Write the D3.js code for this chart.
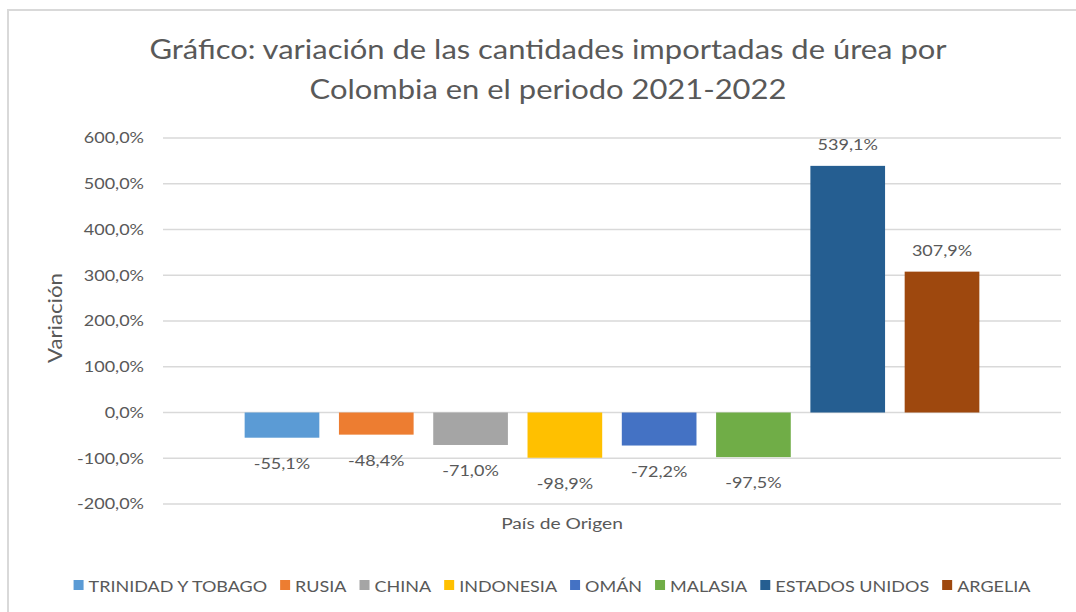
<!DOCTYPE html>
<html>
<head>
<meta charset="utf-8">
<script src="https://cdn.jsdelivr.net/npm/d3@7"></script>
<style>
  body { margin: 0; background: #fff; }
  text { font-family: Lato, "Noto Sans", sans-serif; fill: #595959; }
</style>
</head>
<body>
<svg id="chart" width="1076" height="612"></svg>
<script>
// Data
const countries = ["TRINIDAD Y TOBAGO", "RUSIA", "CHINA", "INDONESIA", "OMÁN", "MALASIA", "ESTADOS UNIDOS", "ARGELIA"];
const variations = [-55.1, -48.4, -71.0, -98.9, -72.2, -97.5, 539.1, 307.9];
const colors = ["#5B9BD5", "#ED7D31", "#A5A5A5", "#FFC000", "#4472C4", "#70AD47", "#255E91", "#9E480E"];
const yTicks = [-200, -100, 0, 100, 200, 300, 400, 500, 600];

const data = countries.map((c, i) => ({ name: c, value: variations[i], color: colors[i] }));

// the reference text is a bit wider than Lato, stretch it horizontally
const sx = 1.2;
const pct = v => d3.format(".1f")(v).replace(".", ",").replace("−", "-") + "%";

const margin = { top: 138, right: 15, bottom: 108, left: 163 };
const width = 1076 - margin.left - margin.right;
const height = 612 - margin.top - margin.bottom;

const svg = d3.select("#chart");

// chart frame
svg.append("path")
    .attr("d", "M8,612 L8,10 L1076,10")
    .attr("fill", "none")
    .attr("stroke", "#d9d9d9")
    .attr("stroke-width", 2);

const g = svg.append("g")
    .attr("transform", "translate(" + margin.left + "," + margin.top + ")");

// scales
const x = d3.scaleBand()
    .domain(countries)
    .range([0, width])
    .paddingInner(0.208)
    .paddingOuter(0.866);

const y = d3.scaleLinear()
    .domain([-200, 600])
    .range([height, 0]);

// gridlines
g.append("g")
    .selectAll("line")
    .data(yTicks)
    .enter()
    .append("line")
    .attr("x1", 0)
    .attr("x2", width)
    .attr("y1", d => y(d))
    .attr("y2", d => y(d))
    .attr("stroke", "#d9d9d9")
    .attr("stroke-width", 1.5);

// y axis labels
const yAxis = g.append("g")
    .call(d3.axisLeft(y).tickValues(yTicks).tickSize(0).tickFormat(pct));
yAxis.select(".domain").remove();
yAxis.selectAll("text")
    .attr("x", 0)
    .attr("transform", "translate(-19,0) scale(" + sx + ",1)")
    .style("font-family", "Lato, 'Noto Sans', sans-serif")
    .style("font-size", "15px")
    .attr("fill", "#595959");

// bars
g.selectAll(".bar")
    .data(data)
    .enter()
    .append("rect")
    .attr("class", "bar")
    .attr("x", d => x(d.name))
    .attr("y", d => y(Math.max(0, d.value)))
    .attr("width", x.bandwidth())
    .attr("height", d => Math.abs(y(d.value) - y(0)))
    .attr("fill", d => d.color);

// data labels
g.selectAll(".label")
    .data(data)
    .enter()
    .append("text")
    .attr("class", "label")
    .attr("transform", d => "translate(" + (x(d.name) + x.bandwidth() / 2) + "," +
        (d.value >= 0 ? y(d.value) - 16 : y(d.value) + 31) + ") scale(" + sx + ",1)")
    .attr("text-anchor", "middle")
    .style("font-size", "15px")
    .text(d => pct(d.value));

// title
const title = svg.append("text")
    .attr("transform", "translate(548,0) scale(1.19,1)")
    .attr("text-anchor", "middle")
    .style("font-size", "26px");
title.append("tspan").attr("x", 0).attr("y", 59)
    .text("Gráfico: variación de las cantidades importadas de úrea por");
title.append("tspan").attr("x", 0).attr("y", 99)
    .text("Colombia en el periodo 2021-2022");

// axis titles
svg.append("text")
    .attr("transform", "translate(62,318) rotate(-90)")
    .attr("text-anchor", "middle")
    .attr("textLength", 90)
    .attr("lengthAdjust", "spacingAndGlyphs")
    .style("font-size", "19px")
    .text("Variación");

svg.append("text")
    .attr("transform", "translate(562,529) scale(" + sx + ",1)")
    .attr("text-anchor", "middle")
    .style("font-size", "16px")
    .text("País de Origen");

// legend
const legend = svg.append("g");
const legendGap = 13;
let lx = 0;
data.forEach(d => {
    const item = legend.append("g").attr("transform", "translate(" + lx + ",0)");
    item.append("rect")
        .attr("x", 0).attr("y", -12)
        .attr("width", 10).attr("height", 10)
        .attr("fill", d.color);
    const t = item.append("text")
        .attr("transform", "translate(15,0) scale(" + sx + ",1)")
        .style("font-size", "15px")
        .text(d.name);
    lx += 15 + t.node().getComputedTextLength() * sx + legendGap;
});
legend.attr("transform", "translate(" + (1104 - (lx - legendGap)) / 2 + ",592)");
</script>
</body>
</html>
